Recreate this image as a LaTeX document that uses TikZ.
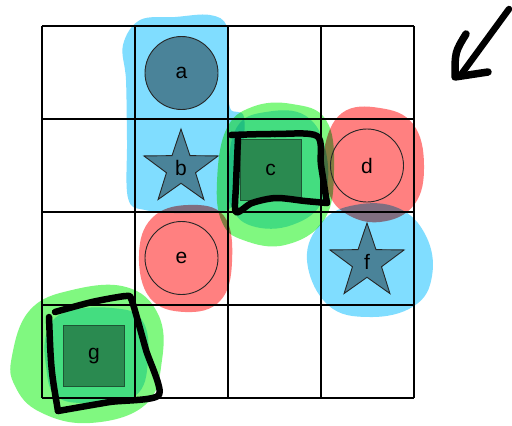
\documentclass[tikz,border=0pt]{standalone}
\usepackage{fontspec}
\setmainfont{Liberation Sans}
\usetikzlibrary{shapes.geometric}

\definecolor{hlblue}{HTML}{80DDFF}
\definecolor{hlred}{HTML}{FF8080}
\definecolor{hlgreen}{HTML}{80F880}
\definecolor{hlgreenin}{HTML}{88E4FF}
\definecolor{tealfill}{HTML}{4A8399}
\definecolor{greenfill}{HTML}{2A8A50}
\definecolor{greenline}{HTML}{1D5534}

\tikzset{
  hilite/.style={fill=#1, draw=none, blend mode=multiply},
  gridline/.style={line width=1.5pt, black},
  disc/.style={circle, draw=black!85, line width=0.9pt, minimum size=73pt, inner sep=0pt},
  starnode/.style={star, star points=5, star point ratio=2.55, draw=black!85, line width=0.9pt,
    fill=tealfill, minimum size=78pt, inner sep=0pt},
  sqnode/.style={rectangle, draw=greenline, line width=0.9pt, fill=greenfill,
    minimum size=61pt, inner sep=0pt},
  marker/.style={line width=6.5pt, black, line cap=round, line join=round},
}

\begin{document}
\begin{tikzpicture}[x=1pt, y=-1pt, font=\fontsize{21}{24}\selectfont]
    \fill[white] (0,0) rectangle (512,426);
    \useasboundingbox (0,0) rectangle (512,426);

    % highlighter blobs
    \fill[hilite=hlblue] plot[smooth cycle, tension=0.6] coordinates
      {(123,45) (140,20) (175,17) (210,15) (227,27) (229,70) (230,108) (244,117)
       (241,165) (232,207) (190,213) (145,210) (128,198) (127,140) (126,80)};
    \fill[hilite=hlblue] plot[smooth cycle, tension=0.7] coordinates
      {(307,260) (322,222) (355,205) (398,208) (426,236) (432,276) (414,306) (370,317) (328,305)};
    \fill[hilite=hlred] plot[smooth cycle, tension=0.7] coordinates
      {(324,150) (342,113) (380,108) (413,124) (424,165) (414,205) (380,222) (345,213) (327,188)};
    \fill[hilite=hlred] plot[smooth cycle, tension=0.7] coordinates
      {(139,255) (152,218) (188,205) (224,216) (232,262) (220,301) (185,312) (150,298)};
    \fill[hilite=hlgreen] plot[smooth cycle, tension=0.7] coordinates
      {(217,182) (226,130) (252,107) (292,104) (326,120) (334,170) (324,220) (285,245) (243,240) (222,222)};
    \fill[hilite=hlgreenin] plot[smooth cycle, tension=0.7] coordinates
      {(228,172) (237,127) (266,112) (306,116) (326,152) (323,200) (292,225) (252,226) (231,206)};
    \fill[hilite=hlgreen] plot[smooth cycle, tension=0.7] coordinates
      {(12,356) (30,310) (72,290) (126,287) (158,314) (162,360) (145,405) (90,423) (40,412) (15,386)};
    \fill[hilite=hlgreenin] plot[smooth cycle, tension=0.7] coordinates
      {(47,332) (66,312) (112,308) (142,320) (148,360) (135,396) (90,403) (56,396) (46,366)};

    % board
    \foreach \i in {0,...,4} {
      \draw[gridline] (42+93*\i,26) -- (42+93*\i,398);
      \draw[gridline] (42,26+93*\i) -- (414,26+93*\i);
    }

    % pieces
    \node[disc, fill=tealfill] (a) at (181.5,73) {a};
    \node[starnode] (b) at (181,168) {b};
    \node[sqnode] (c) at (270.5,169.5) {c};
    \node[disc] (d) at (367,165.5) {d};
    \node[disc] (e) at (181.5,258) {e};
    \node[starnode] (f) at (367,262) {f};
    \node[sqnode] (g) at (94,356) {g};

    % pen marks
    \draw[marker] plot[smooth, tension=0.5] coordinates
      {(231,135) (275,134) (317,136) (321,165) (327,203)};
    \draw[marker] plot[smooth, tension=0.5] coordinates
      {(327,203) (305,201) (276,198) (252,203) (236,212) (236,185) (238,139)};
    \draw[marker] plot[smooth, tension=0.4] coordinates
      {(55,312) (92,302) (126,296) (132,301) (146,350) (159,395) (110,402) (58,411)};
    \draw[marker] (58,411) .. controls (51,370) .. (49,317);
    \draw[marker] (509,9) -- (460,76);
    \draw[marker, line width=7.5pt] (466,34) .. controls (455,52) .. (455,77) -- (488,72);
\end{tikzpicture}
\end{document}
